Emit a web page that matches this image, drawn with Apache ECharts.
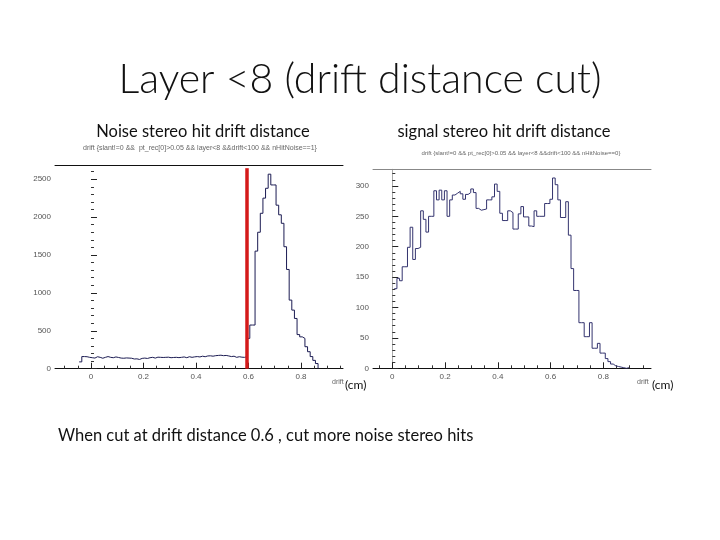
<!DOCTYPE html>
<html><head><meta charset="utf-8">
<script src="https://cdn.jsdelivr.net/npm/echarts@6/dist/echarts.min.js"></script>
<style>html,body{margin:0;padding:0;background:#fff}#c{width:720px;height:540px}</style>
</head><body><div id="c"></div>
<script>
// ---- data ----
const binWidth = 0.01;
// Noise stereo hits (left histogram), first bin left edge
const noiseStart = -0.045;
const noiseCounts = [
  90,160,158,150,145,140,158,150,138,150,
  160,150,145,155,148,140,138,142,140,138,
  128,130,122,136,140,135,145,150,140,152,
  150,148,150,152,145,148,150,146,150,155,
  145,158,150,156,160,155,165,158,168,170,
  165,172,175,178,172,175,168,160,165,150,
  158,152,150,158,400,576,576,1551,1800,2050,
  2250,2380,2566,2424,2424,2157,2030,1918,1609,1309,
  905,773,663,450,420,400,290,224,160,110,
  68
];
// Signal stereo hits (right histogram), first bin left edge
const signalStart = 0.0075;
const signalCounts = [
  131,148,144,167,167,199,232,179,197,199,
  259,245,224,250,250,292,277,293,277,292,
  250,277,285,288,291,287,278,286,289,295,
  289,263,260,261,262,277,277,282,303,291,
  255,243,243,259,256,229,229,254,266,249,
  249,234,233,259,250,250,250,271,271,278,
  313,302,277,248,248,274,219,164,128,128,
  75,75,52,52,75,33,33,41,25,25,
  16,11,7,4,3,2,1,0,1
];
const cutValue = 0.595;
const cutTop = 2645;

// tick labels
const noiseXTicks = [0, 0.2, 0.4, 0.6, 0.8];
const noiseXMinor = [-0.1, -0.05, 0.05, 0.1, 0.15, 0.25, 0.3, 0.35, 0.45, 0.5, 0.55, 0.65, 0.7, 0.75, 0.85, 0.9, 0.95];
const noiseYTicks = [0, 500, 1000, 1500, 2000, 2500];
const noiseYMinor = [100,200,300,400,600,700,800,900,1100,1200,1300,1400,1600,1700,1800,1900,2100,2200,2300,2400,2600];
const signalXTicks = [0, 0.2, 0.4, 0.6, 0.8];
const signalXMinor = [-0.05, 0.05, 0.1, 0.15, 0.25, 0.3, 0.35, 0.45, 0.5, 0.55, 0.65, 0.7, 0.75, 0.85, 0.9, 0.95];
const signalYTicks = [0, 50, 100, 150, 200, 250, 300];
const signalYMinor = [10,20,30,40,60,70,80,90,110,120,130,140,160,170,180,190,210,220,230,240,260,270,280,290,310,320];

// ---- helpers ----
function histPoints(start, counts, closeEnd) {
  const pts = counts.map((v, i) => [start + i * binWidth, v]);
  const end = start + counts.length * binWidth;
  pts.push([end, counts[counts.length - 1]]);
  if (closeEnd) pts.push([end, 0]);
  return pts;
}
const tickFont = {fontFamily: 'Liberation Sans', fontSize: 8, color: '#555'};
function fmt(v) { return String(Math.round(v * 100) / 100); }

function xAxes(gridIndex, min, max, majors, minors, topLineColor) {
  return [
    {type: 'value', gridIndex, min, max, position: 'bottom',
     axisLine: {show: true, onZero: false, lineStyle: {color: '#111', width: 1}},
     axisTick: {show: true, inside: true, length: 6, customValues: majors, lineStyle: {color: '#222'}},
     axisLabel: {show: true, customValues: majors, margin: 4, formatter: fmt, ...tickFont},
     splitLine: {show: false}},
    {type: 'value', gridIndex, min, max, position: 'bottom',
     axisLine: {show: false},
     axisTick: {show: true, inside: true, length: 3, customValues: minors, lineStyle: {color: '#333'}},
     axisLabel: {show: false}, splitLine: {show: false}},
    {type: 'value', gridIndex, min, max, position: 'top',
     axisLine: {show: true, onZero: false, lineStyle: {color: topLineColor, width: 1}},
     axisTick: {show: false}, axisLabel: {show: false}, splitLine: {show: false}}
  ];
}
function yAxes(gridIndex, max, majors, minors, rightLine) {
  const arr = [
    {type: 'value', gridIndex, min: 0, max, position: 'left',
     axisLine: {show: false},
     axisTick: {show: true, inside: true, length: 6, customValues: majors, lineStyle: {color: '#222'}},
     axisLabel: {show: true, customValues: majors, margin: 4, formatter: fmt, ...tickFont},
     splitLine: {show: false}},
    {type: 'value', gridIndex, min: 0, max, position: 'left',
     axisLine: {show: false},
     axisTick: {show: true, inside: true, length: 3, customValues: minors, lineStyle: {color: '#333'}},
     axisLabel: {show: false}, splitLine: {show: false}}
  ];
  if (rightLine) arr.push({type: 'value', gridIndex, min: 0, max, position: 'right',
     axisLine: {show: true, lineStyle: {color: '#aaa', width: 1}},
     axisTick: {show: false}, axisLabel: {show: false}, splitLine: {show: false}});
  return arr;
}

const chart = echarts.init(document.getElementById('c'), null, {renderer: 'canvas'});
const xA = [].concat(
  xAxes(0, -0.1371, 0.96, noiseXTicks, noiseXMinor, '#111'),
  xAxes(1, -0.0732, 0.9808, signalXTicks, signalXMinor, '#888')
);
const yA = [].concat(
  yAxes(0, 2687, noiseYTicks, noiseYMinor, false),
  yAxes(1, 327.3, signalYTicks, signalYMinor, true)
);
const txt = (x, y, text, font, color, align) => ({
  type: 'text', x, y, silent: true,
  style: {text, font, fill: color || '#000', textAlign: align || 'center', textVerticalAlign: 'middle'}
});

chart.setOption({
  backgroundColor: '#fff',
  animation: false,
  grid: [
    {left: 55, top: 165, width: 288, bottom: 171.3, containLabel: false},
    {left: 373, top: 169.3, width: 278, bottom: 171.7, containLabel: false}
  ],
  xAxis: xA,
  yAxis: yA,
  series: [
    {type: 'line', name: 'noise', xAxisIndex: 0, yAxisIndex: 0, step: 'end', symbol: 'none',
     data: histPoints(noiseStart, noiseCounts, true),
     lineStyle: {color: '#1b1b52', width: 1}, silent: true,
     markLine: {silent: true, symbol: 'none', label: {show: false},
       lineStyle: {color: '#d41a1a', width: 3.5, type: 'solid'},
       data: [[{coord: [cutValue, 0]}, {coord: [cutValue, cutTop]}]]}},
    {type: 'line', name: 'signal', xAxisIndex: 3, yAxisIndex: 2, step: 'end', symbol: 'none',
     data: histPoints(signalStart, signalCounts, false),
     lineStyle: {color: '#33336e', width: 1}, silent: true}
  ],
  graphic: [
    txt(360, 80, 'Layer <8 (drift distance cut)', '300 41px Lato', '#111'),
    txt(203, 132, 'Noise stereo hit drift distance', '16.5px Lato', '#111'),
    txt(504, 132, 'signal stereo hit drift distance', '16.5px Lato', '#111'),
    txt(200, 148, 'drift {slant!=0 &&  pt_rec[0]>0.05 && layer<8 &&drift<100 && nHitNoise==1}', '7px "Liberation Sans"', '#666'),
    txt(521, 153, 'drift {slant!=0 && pt_rec[0]>0.05 && layer<8 &&drift<100 && nHitNoise==0}', '6px "Liberation Sans"', '#666'),
    txt(332, 382, 'drift', '7px "Liberation Sans"', '#666', 'left'),
    txt(345, 385, '(cm)', '12px Lato', '#111', 'left'),
    txt(637, 382, 'drift', '7px "Liberation Sans"', '#666', 'left'),
    txt(652, 385, '(cm)', '12px Lato', '#111', 'left'),
    txt(58, 436, 'When cut at drift distance 0.6 , cut more noise stereo hits', '16.5px Lato', '#111', 'left')
  ]
});
</script></body></html>
